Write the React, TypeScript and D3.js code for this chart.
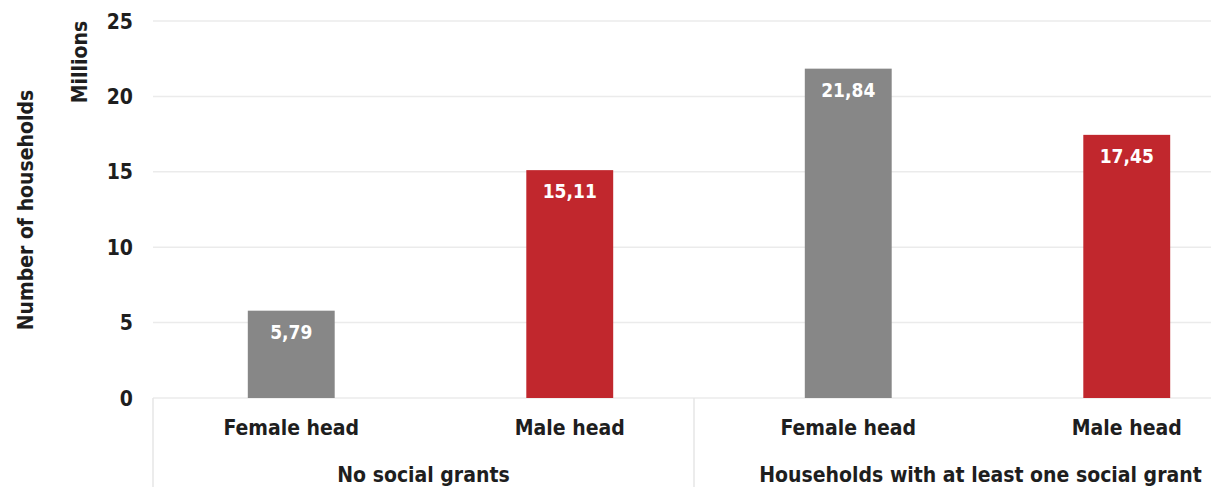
import React from "react";
import * as d3 from "d3";

const categories = ["Female head", "Male head", "Female head ", "Male head "];
const categoryLabels = ["Female head", "Male head", "Female head", "Male head"];
const values = [5.79, 15.11, 21.84, 17.45];
const valueLabels = ["5,79", "15,11", "21,84", "17,45"];
const barColors = ["#878787", "#c1272d", "#878787", "#c1272d"];
const groups = ["No social grants", "Households with at least one social grant"];
const groupMembers = [[0, 1], [2, 3]];
const yTicks = [0, 5, 10, 15, 20, 25];

const W = 1211;
const H = 487;
const FONT = "'DejaVu Sans Condensed', 'DejaVu Sans', sans-serif";
const TEXT = "#1e1e1e";

export default function App() {
  const x = d3.scaleBand<string>().domain(categories).range([152, 1266]).paddingInner(0.688).paddingOuter(0.344);
  const y = d3.scaleLinear().domain([0, 25]).range([398, 21]);
  const plotLeft = 153;
  const center = (i: number) => (x(categories[i]) as number) + x.bandwidth() / 2;
  const sepX = (center(1) + center(2)) / 2 - 15;
  const groupX = (g: number) => d3.mean(groupMembers[g].map(center)) as number - 7;

  return (
    <svg width={W} height={H} style={{ position: "absolute", left: 0, top: 0, background: "#fff" }}>
      <rect width={W} height={H} fill="#fff" />
      {yTicks.map((t) => (
        <g key={t}>
          <line x1={plotLeft} x2={W} y1={y(t)} y2={y(t)} stroke="#ebebeb" strokeWidth={1.5} />
          <text x={133} y={y(t)} dy="0.36em" textAnchor="end" fontFamily={FONT} fontWeight="bold" fontSize={21} fill={TEXT}>
            {t}
          </text>
        </g>
      ))}
      <line x1={plotLeft} x2={plotLeft} y1={y(0)} y2={H} stroke="#e6e6e6" strokeWidth={1.5} />
      <line x1={sepX} x2={sepX} y1={y(0)} y2={H} stroke="#e6e6e6" strokeWidth={1.5} />
      {values.map((v, i) => (
        <g key={i}>
          <rect x={x(categories[i])} y={y(v)} width={x.bandwidth()} height={y(0) - y(v)} fill={barColors[i]} />
          <text x={center(i)} y={y(v) + 28} textAnchor="middle" fontFamily={FONT} fontWeight="bold" fontSize={19} fill="#ffffff">
            {valueLabels[i]}
          </text>
          <text x={center(i)} y={435} textAnchor="middle" fontFamily={FONT} fontWeight="bold" fontSize={21} fill={TEXT}>
            {categoryLabels[i]}
          </text>
        </g>
      ))}
      {groups.map((g, i) => (
        <text key={g} x={groupX(i)} y={482} textAnchor="middle" fontFamily={FONT} fontWeight="bold" fontSize={21} fill={TEXT}>
          {g}
        </text>
      ))}
      <text transform={`translate(87,62) rotate(-90)`} textAnchor="middle" fontFamily={FONT} fontWeight="bold" fontSize={21} fill={TEXT}>
        Millions
      </text>
      <text transform={`translate(33,210) rotate(-90)`} textAnchor="middle" fontFamily={FONT} fontWeight="bold" fontSize={21} fill={TEXT}>
        Number of households
      </text>
    </svg>
  );
}
